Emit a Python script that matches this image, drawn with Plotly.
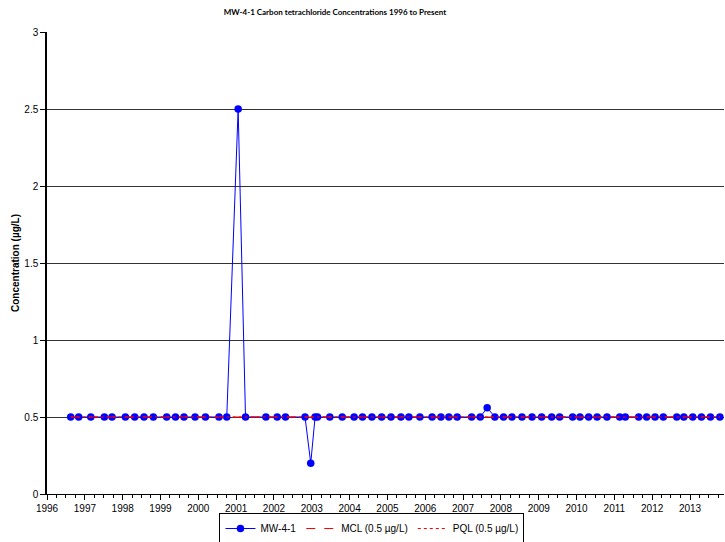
import plotly.graph_objects as go

# ---- data ----
sample_dates = [
    "1996-08-17", "1996-11-02", "1997-02-27", "1997-07-08", "1997-09-20",
    "1998-01-27", "1998-04-27", "1998-07-26", "1998-10-24", "1999-03-02",
    "1999-05-26", "1999-08-16", "1999-12-01", "2000-03-10", "2000-07-19",
    "2000-10-02", "2001-01-20", "2001-04-01", "2001-10-15", "2002-02-01",
    "2002-04-22", "2002-10-28", "2002-12-22", "2003-02-02", "2003-02-25",
    "2003-06-24", "2003-10-22", "2004-02-14", "2004-05-05", "2004-08-04",
    "2004-11-06", "2005-02-04", "2005-05-11", "2005-07-27", "2005-11-10",
    "2006-03-08", "2006-06-01", "2006-08-17", "2006-11-05", "2007-03-25",
    "2007-06-16", "2007-08-22", "2007-11-04", "2008-01-27", "2008-04-17",
    "2008-07-23", "2008-10-28", "2009-01-29", "2009-05-06", "2009-07-22",
    "2009-11-24", "2010-02-03", "2010-04-28", "2010-07-19", "2010-10-22",
    "2011-02-22", "2011-04-17", "2011-08-24", "2011-11-09", "2012-01-29",
    "2012-04-18", "2012-08-26", "2012-11-02", "2013-01-27", "2013-04-21",
    "2013-07-17", "2013-10-16",
]
mw_4_1 = [
    0.5, 0.5, 0.5, 0.5, 0.5,
    0.5, 0.5, 0.5, 0.5, 0.5,
    0.5, 0.5, 0.5, 0.5, 0.5,
    0.5, 2.5, 0.5, 0.5, 0.5,
    0.5, 0.5, 0.2, 0.5, 0.5,
    0.5, 0.5, 0.5, 0.5, 0.5,
    0.5, 0.5, 0.5, 0.5, 0.5,
    0.5, 0.5, 0.5, 0.5, 0.5,
    0.5, 0.56, 0.5, 0.5, 0.5,
    0.5, 0.5, 0.5, 0.5, 0.5,
    0.5, 0.5, 0.5, 0.5, 0.5,
    0.5, 0.5, 0.5, 0.5, 0.5,
    0.5, 0.5, 0.5, 0.5, 0.5,
    0.5, 0.5,
]
limit_dates = [sample_dates[0], sample_dates[-1]]
mcl_values = [0.5, 0.5]
pql_values = [0.5, 0.5]

title_text = "MW-4-1 Carbon tetrachloride Concentrations 1996 to Present"
y_title = "Concentration (µg/L)"
x_range = ["1996-01-01", "2013-11-25"]
y_range = [0, 3]

FONT = "Liberation Sans"

fig = go.Figure()
fig.add_trace(go.Scatter(
    x=sample_dates, y=mw_4_1, name="MW-4-1", mode="lines+markers",
    line=dict(color="#0000FF", width=1),
    marker=dict(color="#0000FF", size=7.5, symbol="circle"),
))
fig.add_trace(go.Scatter(
    x=limit_dates, y=mcl_values, name="MCL (0.5 µg/L)", mode="lines",
    line=dict(color="#FF0000", width=1, dash="dash"),
))
fig.add_trace(go.Scatter(
    x=limit_dates, y=pql_values, name="PQL (0.5 µg/L)", mode="lines",
    line=dict(color="#FF0000", width=1, dash="dot"),
))

fig.update_layout(
    width=725, height=542,
    margin=dict(l=47, r=1, t=32, b=48, autoexpand=False),
    paper_bgcolor="white", plot_bgcolor="white",
    font=dict(family=FONT, size=10, color="black"),
    title=dict(text="<b>" + title_text + "</b>", x=(335 - 47) / 677, xref="paper",
               y=1 - 12 / 542, yref="container", yanchor="middle", xanchor="center",
               font=dict(family="Lato", size=8, color="black")),
    showlegend=True,
    legend=dict(orientation="h", x=0.48, xanchor="center",
                y=1 - 513 / 542, yref="container", yanchor="top",
                bordercolor="black", borderwidth=1, bgcolor="white",
                font=dict(family=FONT, size=10), itemwidth=30,
                tracegroupgap=0),
)
fig.update_xaxes(
    type="date", range=x_range, dtick="M12", tick0="1996-01-01", tickformat="%Y",
    ticks="outside", ticklen=5, tickcolor="black", tickwidth=1,
    minor=dict(dtick="M3", ticks="outside", ticklen=3, tickcolor="black", showgrid=False),
    showgrid=False, showline=True, linecolor="black", linewidth=1,
    zeroline=False, tickfont=dict(family=FONT, size=10), automargin=False,
)
fig.update_yaxes(
    range=y_range, dtick=0.5, tick0=0,
    ticks="outside", ticklen=5, tickcolor="black", tickwidth=1,
    showgrid=True, gridcolor="#333333", gridwidth=1,
    showline=True, linecolor="black", linewidth=1.5, zeroline=False,
    title=dict(text="<b>" + y_title + "</b>", font=dict(family=FONT, size=10), standoff=3),
    tickfont=dict(family=FONT, size=10), automargin=False,
)

fig.write_html("out.html", config={"displayModeBar": False},
               post_script="document.body.style.margin='0';document.body.style.padding='0';")
